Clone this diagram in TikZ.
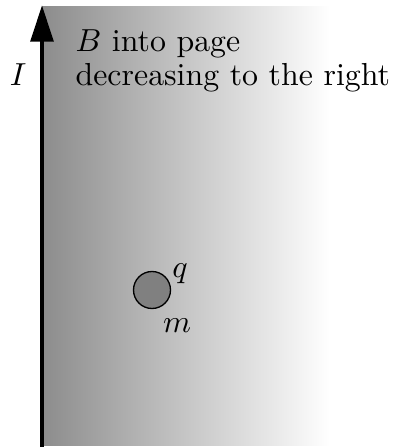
\documentclass[tikz,border=0pt]{standalone}
\usetikzlibrary{arrows.meta}
\begin{document}
\begin{tikzpicture}[x=0.314pt,y=-0.314pt,
  lbl/.style={inner sep=0pt,anchor=base},
  txt/.style={inner sep=0pt,anchor=base west},
  wire/.style={line width=1.55pt,-{Triangle[length=11.5pt,width=7pt]}}]
\useasboundingbox (0,0) rectangle (392,447);
\shade[left color=black!45,right color=white] (42,7) rectangle (330,445);
\coordinate (bot) at (42,447);
\coordinate (top) at (42,5);
\draw[wire] (bot) -- (top);
\node[lbl] (I) at (18,86) {$I$};
\node[txt] (t1) at (75,52) {$B$ into page};
\node[txt] (t2) at (75,86) {decreasing to the right};
\node[circle,draw,line width=0.42pt,fill=black!50,minimum size=37*0.314pt,inner sep=0pt] (p) at (152,290) {};
\node[lbl] (q) at (180,277) {$q$};
\node[lbl] (m) at (177,332) {$m$};
\end{tikzpicture}
\end{document}
